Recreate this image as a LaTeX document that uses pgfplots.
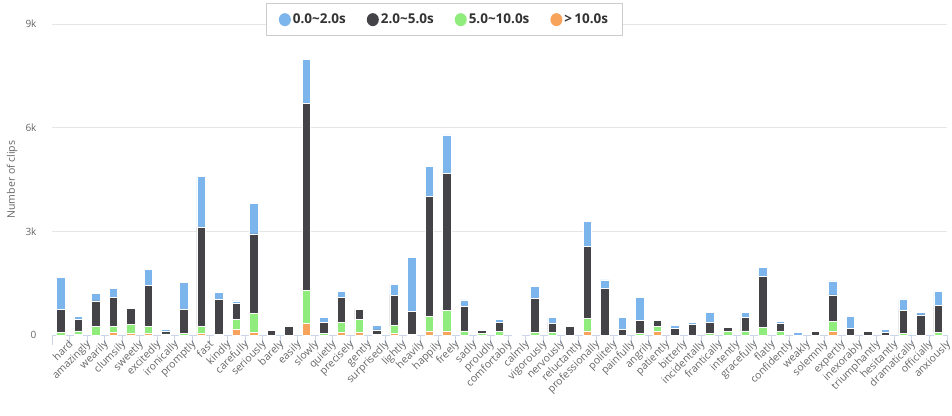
\documentclass[border=0pt]{standalone}
\usepackage{pgfplots}
\usepackage{pgfplotstable}
\pgfplotsset{compat=1.18}
\usepackage{fontspec}
\setmainfont{Open Sans}
\definecolor{cA}{HTML}{7CB5EC}
\definecolor{cB}{HTML}{434348}
\definecolor{cC}{HTML}{90ED7D}
\definecolor{cD}{HTML}{F7A35C}
\definecolor{gridc}{HTML}{E6E6E6}
\definecolor{axc}{HTML}{CCD6EB}
\definecolor{lab}{HTML}{666666}
\definecolor{legtxt}{HTML}{333333}
\definecolor{legbox}{HTML}{CCCCCC}

\pgfplotstableread{
x o g d b
0 0 77 675 907
1 10 106 347 67
2 0 241 743 231
3 77 164 849 260
4 48 270 454 15
5 48 193 1187 472
6 10 20 66 68
7 0 48 695 771
8 48 193 2884 1457
9 0 15 1007 203
10 164 289 463 68
11 68 559 2296 887
12 0 0 125 0
13 0 0 260 0
14 338 964 5402 1283
15 0 48 319 135
16 77 280 723 174
17 77 376 290 0
18 0 20 125 125
19 48 241 849 328
20 0 15 660 1563
21 116 415 3491 849
22 116 607 3955 1110
23 0 116 704 193
24 0 40 85 0
25 0 106 261 86
26 0 0 0 20
27 0 68 983 348
28 0 68 270 164
29 0 0 260 0
30 116 366 2074 743
31 0 0 1350 242
32 0 0 164 338
33 0 48 386 646
34 96 145 193 0
35 0 0 193 96
36 0 0 309 48
37 0 48 319 279
38 0 96 126 0
39 0 116 395 135
40 0 222 1485 241
41 0 96 242 67
42 0 0 0 68
43 0 0 96 0
44 96 309 753 405
45 0 0 193 337
46 0 0 96 0
47 0 0 77 87
48 0 48 675 319
49 0 0 579 67
50 0 77 772 405
}\data

\begin{document}
\begin{tikzpicture}
\path[use as bounding box] (0,0) rectangle (952pt,415pt);
\begin{axis}[
  at={(52pt,80pt)}, anchor=south west,
  scale only axis, width=895pt, height=311pt,
  ybar stacked, bar width=8.5pt,
  xmin=-0.5, xmax=50.5, ymin=0, ymax=9000,
  axis x line*=bottom, axis y line*=left,
  x axis line style={draw=axc, line width=1pt},
  y axis line style={draw=none},
  xtick={0,...,50},
  xticklabels={hard,amazingly,wearily,clumsily,sweetly,excitedly,ironically,promptly,fast,kindly,carefully,seriously,barely,easily,slowly,quietly,precisely,gently,surprisedly,lightly,heavily,happily,freely,sadly,proudly,comfortably,calmly,vigorously,nervously,reluctantly,professionally,politely,painfully,angrily,patiently,bitterly,incidentally,frantically,intently,gracefully,flatly,confidently,weakly,solemnly,expertly,inexorably,triumphantly,hesitantly,dramatically,officially,anxiously},
  minor xtick={-0.5,0.5,...,50.5},
  tick align=outside,
  major x tick style={draw=none},
  minor x tick style={draw=axc, line width=1pt},
  minor tick length=10pt,
  major tick length=0pt,
  xticklabel style={rotate=45, anchor=north east, inner sep=1pt, yshift=-7pt, xshift=3pt, font=\fontsize{10.5}{12}\selectfont, text=lab},
  ytick={0,3000,6000,9000},
  yticklabels={0,3k,6k,9k},
  yticklabel style={font=\fontsize{10}{12}\selectfont, text=lab, xshift=-12pt},
  ymajorgrids, grid style={draw=gridc, line width=1pt},
  ylabel={Number of clips},
  every axis y label/.style={at={(axis description cs:-0.0447,0.5)}, rotate=90, anchor=center, font=\fontsize{10.5}{12}\selectfont, text=lab},
  reverse legend,
  legend columns=4,
  legend style={at={(0.4385,1.0675)}, anchor=north, draw=legbox, line width=1pt, fill=white,
    font=\bfseries\fontsize{13.5}{15}\selectfont, text=legtxt, inner xsep=12pt, inner ysep=8.5pt,
    /tikz/every even column/.append style={column sep=19pt}},
  legend cell align=left,
  legend image code/.code={\fill[#1,draw=none] (1pt,0pt) ellipse (6pt and 6.5pt);},
]
\addplot[fill=cD, draw=white, line width=0.7pt] table[x=x,y=o]{\data};
\addplot[fill=cC, draw=white, line width=0.7pt] table[x=x,y=g]{\data};
\addplot[fill=cB, draw=white, line width=0.7pt] table[x=x,y=d]{\data};
\addplot[fill=cA, draw=white, line width=0.7pt] table[x=x,y=b]{\data};
\legend{{>\,10.0s},{5.0\textasciitilde10.0s},{2.0\textasciitilde5.0s},{0.0\textasciitilde2.0s}}
\end{axis}
\end{tikzpicture}
\end{document}
